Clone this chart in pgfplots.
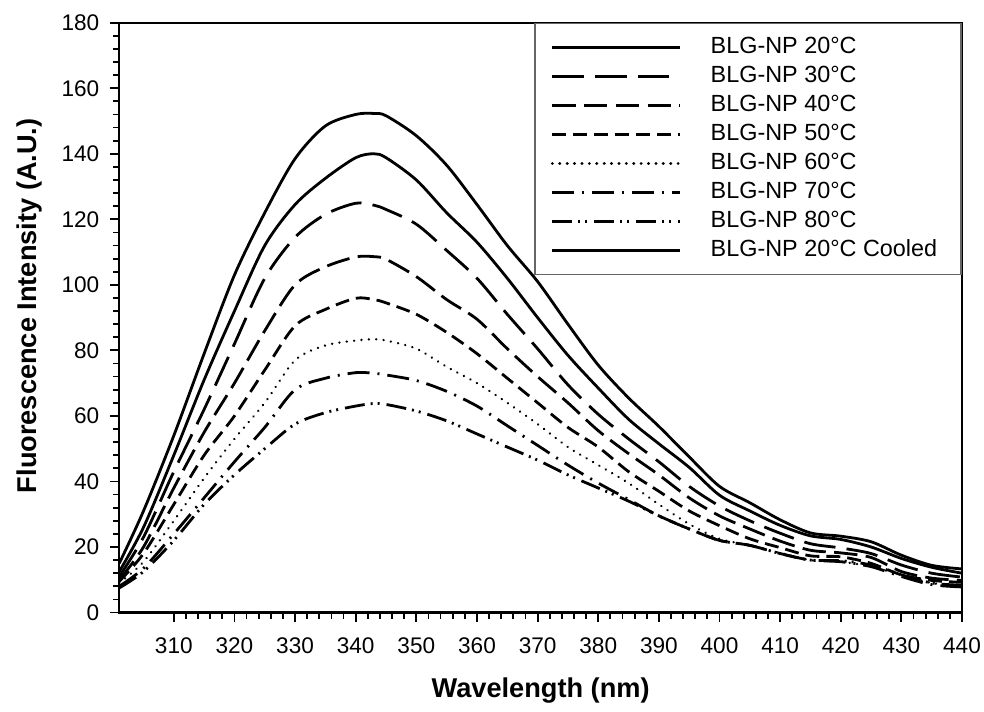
\documentclass[border=0pt]{standalone}
\usepackage{pgfplots}
\pgfplotsset{compat=1.18}
\usepackage{pgfplotstable}
\usepackage{fontspec}
\setmainfont{Liberation Sans}

% emission spectra, intensity
\pgfplotstableread{
wl   t20   t20c  t30   t40   t50   t60   t70   t80
301  15    12.5  11    10    9.5   9     8     7.5
305  31    26    23    20    18    15.5  13.5  12.5
310  54    48    43    38    33    28    24    22
315  79    71    62    55    48    41    35    33
320  103   92    82    70    60    53    46    42
325  122   112   102   86    74    64    56.5  50
330  138.5 124.5 114.5 100   87.5  77    68    57.5
335  148.5 132.5 121.5 105.5 92.5  81.5  71.5  61
340  152   138.8 124.9 108.5 95.9  83    73.2  63
343  152.3 140   124.3 108.6 95.5  83.4  73    63.8
345  151.6 138.8 123   107.8 94.5  83    72.5  63.5
350  145.5 132   118.5 102.5 91    80.5  70.8  61.5
355  136.5 122   110.5 95.5  85.5  75    67.5  58.5
360  124.5 113   102   89.5  79    70    63    54.5
365  112   102   91    80.5  71.5  64    57    50.5
370  101   90    80.5  72    64    57.5  51    46.5
375  88    78.5  69.5  64    56.5  50.5  45    42
380  75.5  68.5  60.5  55.5  50.5  45    39.5  38
385  65.5  59    53    48.5  43    39.5  34.5  34
390  56.8  51.5  46    42    37    33    29.5  29.5
395  47.5  44.3  38.5  35    31    27    25.5  25.5
400  38.5  35.8  32.5  29.5  26.5  22.5  22    22
405  33.5  31    28    25.5  22.5  20.5  20.5  20.5
410  28.3  26.6  24.2  21.8  19.8  18.2  18    18
415  24.3  23.4  21    19    17.3  16    16    16
420  23.3  22.3  19.7  18.2  17    15.5  15.5  15.8
425  21.6  20    18    16.8  15    14    14    14.5
430  17.5  16.5  14.5  12.5  11.5  11.5  11    11.5
435  14.4  13.8  12    10.5  9.8   9     8.5   9
440  13.3  12    10.8  9.8   9.2   8     7.8   8.3
}\spectra

\begin{document}
\begin{tikzpicture}
\begin{axis}[
  scale only axis,
  width=421.5bp, height=295bp,
  xmin=301, xmax=440, ymin=0, ymax=180,
  xtick={310,320,...,440},
  ytick={0,20,...,180},
  minor x tick num=4, minor y tick num=4,
  tick pos=left, tick align=outside,
  major tick length=4.5bp, minor tick length=3bp,
  axis line style={line width=1.1bp},
  tick style={black, line width=0.9bp},
  /pgf/number format/assume math mode=true,
  ticklabel style={font=\fontsize{11.3bp}{13bp}\selectfont},
  xticklabel style={yshift=-4.5bp},
  yticklabel style={xshift=-2bp},
  xlabel={Wavelength (nm)},
  ylabel={Fluorescence Intensity (A.U.)},
  label style={font=\bfseries\fontsize{13.6bp}{15bp}\selectfont},
  xlabel style={at={(axis description cs:0.5,-0.132)}, anchor=center},
  ylabel style={at={(axis description cs:-0.106,0.52)}, anchor=center},
  legend cell align=left,
  legend image code/.code={\draw[#1, line width=1.5bp] (0bp,0bp) -- (64bp,0bp);},
  legend style={at={(1,1)}, anchor=north east, draw=black!60,
    line width=0.8bp, fill=white, inner xsep=8bp, inner ysep=6.5bp,
    row sep=3.5bp, font=\fontsize{11.7bp}{13bp}\selectfont,
    nodes={inner ysep=0pt, inner xsep=4bp, text height=8.5bp, text depth=2.5bp},
    /tikz/every odd column/.append style={column sep=10.5bp}},
  every axis plot/.append style={black, line width=1.4bp, smooth, tension=0.5},
]
\addplot[solid] table[x=wl, y=t20] {\spectra};
\addlegendentry{BLG-NP 20°C}
\addplot[dash pattern=on 15.8bp off 5.6bp] table[x=wl, y=t30] {\spectra};
\addlegendentry{BLG-NP 30°C}
\addplot[dash pattern=on 11.7bp off 4.2bp] table[x=wl, y=t40] {\spectra};
\addlegendentry{BLG-NP 40°C}
\addplot[dash pattern=on 7bp off 3.5bp] table[x=wl, y=t50] {\spectra};
\addlegendentry{BLG-NP 50°C}
\addplot[line width=1.2bp, line cap=round, dash pattern=on 0.1bp off 3.6bp] table[x=wl, y=t60] {\spectra};
\addlegendentry{BLG-NP 60°C}
\addplot[dash pattern=on 11bp off 4bp on 1bp off 4bp] table[x=wl, y=t70] {\spectra};
\addlegendentry{BLG-NP 70°C}
\addplot[dash pattern=on 10bp off 3bp on 1bp off 2.5bp on 1bp off 3.5bp] table[x=wl, y=t80] {\spectra};
\addlegendentry{BLG-NP 80°C}
\addplot[solid] table[x=wl, y=t20c] {\spectra};
\addlegendentry{BLG-NP 20°C Cooled}
\end{axis}
\pgfresetboundingbox
\path[use as bounding box] ([xshift=-59.65bp,yshift=-49.35bp]current axis.south west)
  rectangle ([xshift=11bp,yshift=11.35bp]current axis.north east);
\end{tikzpicture}
\end{document}
